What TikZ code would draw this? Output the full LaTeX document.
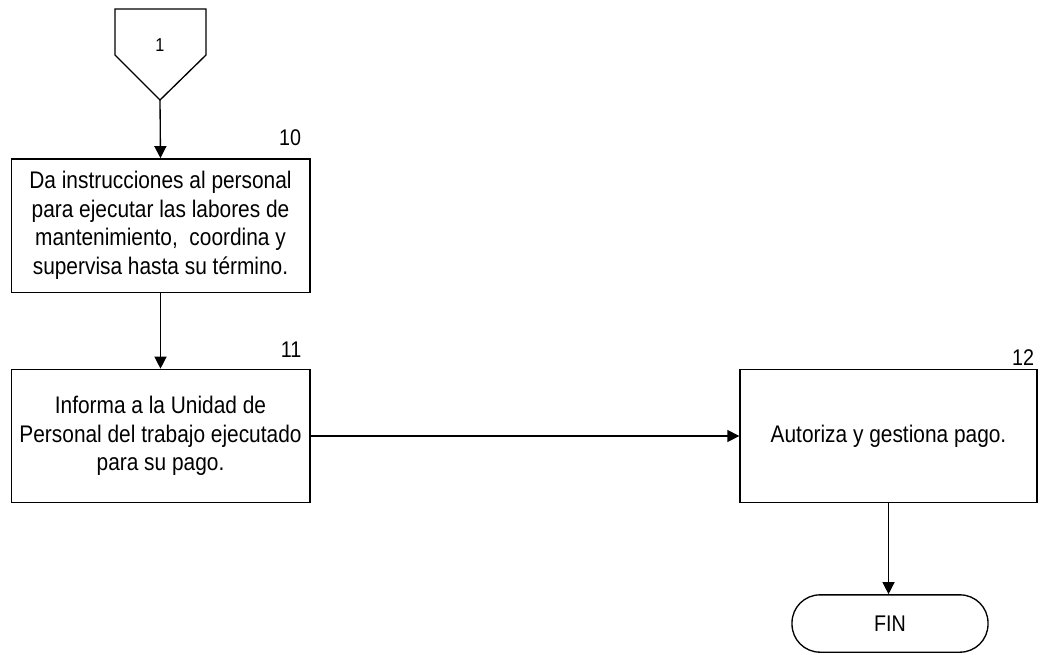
\documentclass[tikz,border=0pt]{standalone}
\usepackage{fontspec}
\setmainfont{Liberation Sans}[FakeStretch=0.87]
\usetikzlibrary{arrows.meta, positioning, calc}

\begin{document}
\begin{tikzpicture}[x=0.75pt,y=-0.75pt,
		proceso/.style={draw, line width=1pt, minimum width=224pt, minimum height=100pt, align=center, font=\fontsize{18}{21.4}\selectfont, inner sep=0pt},
		terminal/.style={draw, line width=1pt, rounded corners=21pt, minimum width=147pt, minimum height=43pt, font=\fontsize{17}{19}\selectfont},
		numlabel/.style={font=\fontsize{17}{18}\selectfont, inner sep=0pt},
		flecha/.style={-{Triangle[length=9pt,width=9pt]}, line width=1pt}]
			\useasboundingbox (0,0) rectangle (1041,654);
			
			\draw[line width=1pt] (115,9) -- (206,9) -- (206,55) -- (160,100) -- (115,55) -- cycle;
			\coordinate (c1) at (160,100);
			\node[font=\fontsize{14}{15}\selectfont, inner sep=0pt] (n1) at (160,45) {1};
			
			\node[proceso] (p10) at (160.5,225.5) {Da instrucciones al personal\\para ejecutar las labores de\\mantenimiento,\ \ coordina y\\supervisa hasta su término.};
			\node[numlabel] (l10) at (290,138) {10};
			
			\node[proceso] (p11) at (160.5,436) {Informa a la Unidad de\\Personal del trabajo ejecutado\\para su pago.};
			\node[numlabel] (l11) at (291,350) {11};
			
			\node[proceso, minimum width=222.75pt] (p12) at (888.5,436) {Autoriza y gestiona pago.};
			\node[numlabel] (l12) at (1023,358) {12};
			
			\node[terminal] (fin) at (890,623.5) {FIN};
			
			\draw[flecha] (c1) -- (p10.north);
			\draw[flecha] (p10.south) -- (p11.north);
			\draw[flecha] (p11.east) -- (p12.west);
			\draw[flecha] (p12.south) -- (p12.south |- fin.north);
		\end{tikzpicture}
\end{document}
